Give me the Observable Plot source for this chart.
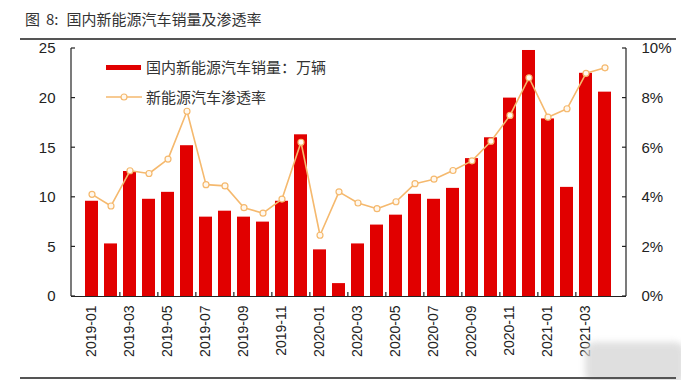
<!DOCTYPE html>
<html><head><meta charset="utf-8">
<script src="https://cdn.jsdelivr.net/npm/d3@7"></script>
<script src="https://cdn.jsdelivr.net/npm/@observablehq/plot@0.6"></script>
<style>
body{margin:0;background:#fff;}
#wrap{position:relative;width:681px;height:380px;overflow:hidden;font-family:"Liberation Sans",Arial,sans-serif;}
#title{position:absolute;left:25px;top:8px;font-size:15px;color:#333;font-family:"Noto Sans CJK SC",sans-serif;line-height:22px;white-space:nowrap;}
#title span{display:inline-block;}
#rule1{position:absolute;left:20px;top:38px;width:656px;height:2px;background:#555;}
#rule2{position:absolute;left:20px;top:377px;width:656px;height:2px;background:#555;}
#chart{position:absolute;left:0;top:40px;}
.lg{position:absolute;font-family:"Noto Sans CJK SC",sans-serif;font-size:15px;color:#333;line-height:20px;}
#blur{position:absolute;left:585px;top:342px;width:100px;height:42px;background:#d8d8d8;border-radius:10px;filter:blur(3px);opacity:.8;}
</style></head>
<body><div id="wrap">
<div id="title"><span style="margin-right:6px">图</span><span style="margin-right:8px">8:</span><span>国内新能源汽车销量及渗透率</span></div>
<div id="rule1"></div>
<div id="chart"></div>
<div id="leg"></div>
<div id="blur"></div>
<div id="rule2"></div>
</div>
<script>
const months = ["2019-01","2019-02","2019-03","2019-04","2019-05","2019-06","2019-07","2019-08","2019-09","2019-10","2019-11","2019-12",
"2020-01","2020-02","2020-03","2020-04","2020-05","2020-06","2020-07","2020-08","2020-09","2020-10","2020-11","2020-12",
"2021-01","2021-02","2021-03","2021-04"];
const sales = [9.6,5.3,12.6,9.8,10.5,15.2,8.0,8.6,8.0,7.5,9.6,16.3,
4.7,1.3,5.3,7.2,8.2,10.3,9.8,10.9,13.9,16.0,20.0,24.8,
17.9,11.0,22.5,20.6];
const penetration = [4.12,3.65,5.07,4.96,5.54,7.47,4.51,4.46,3.58,3.36,3.93,6.22,
2.47,4.22,3.77,3.54,3.82,4.55,4.73,5.08,5.47,6.26,7.30,8.82,
7.23,7.57,9.00,9.22];
const leftTicks = [0,5,10,15,20,25];
const rightTicks = [0,2,4,6,8,10];
const seriesNames = ["国内新能源汽车销量：万辆","新能源汽车渗透率"];

const data = months.map((m,i)=>({month:m, sales:sales[i], pct:penetration[i]}));
const ratio = 25/10; // right axis 0-10% mapped onto left 0-25
const labelMonths = months.filter((m,i)=>i%2===0);
const red = "#e10000", orange = "#f5b96e";

const chart = Plot.plot({
  width:681, height:340,
  marginTop:8, marginBottom:84, marginLeft:71, marginRight:55,
  style:{fontFamily:"'Liberation Sans',Arial,sans-serif", color:"#222", background:"transparent"},
  x:{type:"band", domain:months, paddingInner:0.3, paddingOuter:0.15, label:null},
  y:{domain:[0,25], label:null},
  marks:[
    Plot.barY(data,{x:"month", y:"sales", fill:red}),
    Plot.line(data,{x:"month", y:d=>d.pct*ratio, stroke:orange, strokeWidth:1.6}),
    Plot.dot(data,{x:"month", y:d=>d.pct*ratio, r:3, fill:"#fff8ee", stroke:orange, strokeWidth:1.2}),
    Plot.axisY(leftTicks,{anchor:"left", tickSize:0, tickPadding:16, fontSize:15, label:null}),
    Plot.axisY(rightTicks.map(v=>v*ratio),{anchor:"right", tickSize:0, tickPadding:15, fontSize:15, label:null, tickFormat:v=>Math.round(v/ratio)+"%"}),
    Plot.axisX(labelMonths,{anchor:"bottom", tickSize:0, tickPadding:9, tickRotate:-90, fontSize:14, label:null}),
    Plot.ruleY([0],{stroke:"#222", strokeWidth:1.2})
  ]
});
document.getElementById("chart").appendChild(chart);

// inward axis lines and ticks drawn from the Plot scales
const xs = chart.scale("x"), ys = chart.scale("y");
const svg = d3.select(chart);
const x0 = 71, x1 = 681-55;
const yTop = ys.apply(25), yBot = ys.apply(0);
const g = svg.append("g").attr("stroke","#222").attr("stroke-width",1.2).attr("fill","none");
g.append("line").attr("x1",x0).attr("x2",x0).attr("y1",yTop).attr("y2",yBot);
g.append("line").attr("x1",x1).attr("x2",x1).attr("y1",yTop).attr("y2",yBot);
leftTicks.forEach(v=>{const y=ys.apply(v); g.append("line").attr("x1",x0).attr("x2",x0+4).attr("y1",y).attr("y2",y);});
rightTicks.forEach(v=>{const y=ys.apply(v*ratio); g.append("line").attr("x1",x1-4).attr("x2",x1).attr("y1",y).attr("y2",y);});
const gap = xs.step*0.3/2;
months.forEach((m,i)=>{ if(i%2===1 && i<months.length-1){ const x = xs.apply(m)+xs.bandwidth+gap; g.append("line").attr("x1",x).attr("x2",x).attr("y1",yBot).attr("y2",yBot-4);} });

// legend
const leg = document.getElementById("leg");
leg.innerHTML = `
<div style="position:absolute;left:106px;top:65px;width:35px;height:5px;background:${red}"></div>
<div class="lg" style="left:146px;top:57px">${seriesNames[0]}</div>
<svg style="position:absolute;left:104px;top:91px" width="40" height="12"><line x1="2" x2="38" y1="6" y2="6" stroke="${orange}" stroke-width="1.6"/><circle cx="20" cy="6" r="3" fill="#fff8ee" stroke="${orange}" stroke-width="1.2"/></svg>
<div class="lg" style="left:146px;top:87px">${seriesNames[1]}</div>`;
</script>
</body></html>
